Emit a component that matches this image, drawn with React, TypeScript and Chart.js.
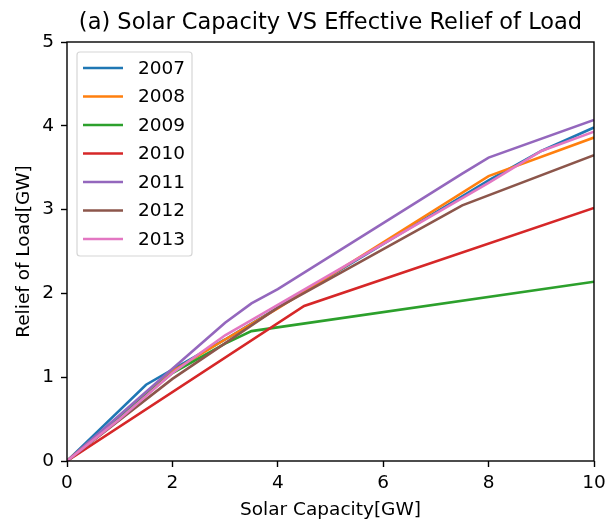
import React, { useEffect, useRef } from "react";
import { Chart, registerables } from "chart.js";

Chart.register(...registerables);

const FONT = "'DejaVu Sans', sans-serif";

const years = ["2007", "2008", "2009", "2010", "2011", "2012", "2013"];
const colors = ["#1f77b4", "#ff7f0e", "#2ca02c", "#d62728", "#9467bd", "#8c564b", "#e377c2"];

// Solar capacity [GW] at each breakpoint, and the matching relief of load [GW]
const cap2007 = [0, 1.5, 2, 3, 8, 9, 10];
const relief2007 = [0, 0.91, 1.09, 1.45, 3.35, 3.7, 3.98];
const cap2008 = [0, 2, 3, 4, 8, 10];
const relief2008 = [0, 1.07, 1.45, 1.82, 3.4, 3.86];
const cap2009 = [0, 2, 3, 3.5, 10];
const relief2009 = [0, 1.05, 1.4, 1.55, 2.14];
const cap2010 = [0, 4.5, 10];
const relief2010 = [0, 1.85, 3.02];
const cap2011 = [0, 1, 2, 3, 3.5, 4, 7.5, 8, 10];
const relief2011 = [0, 0.55, 1.1, 1.65, 1.88, 2.05, 3.43, 3.62, 4.07];
const cap2012 = [0, 2, 4, 7.5, 10];
const relief2012 = [0, 0.98, 1.83, 3.05, 3.65];
const cap2013 = [0, 1, 2, 3, 3.5, 8, 9, 10];
const relief2013 = [0, 0.5, 1.05, 1.5, 1.68, 3.32, 3.7, 3.93];

const capacities = [cap2007, cap2008, cap2009, cap2010, cap2011, cap2012, cap2013];
const reliefs = [relief2007, relief2008, relief2009, relief2010, relief2011, relief2012, relief2013];

const titleText = "(a) Solar Capacity VS Effective Relief of Load";
const xTitle = "Solar Capacity[GW]";
const yTitle = "Relief of Load[GW]";

const framePlugin = {
  id: "frameAndText",
  afterDraw(chart: any) {
    const { ctx, chartArea } = chart;
    const { left, right, top, bottom } = chartArea;
    ctx.save();
    // spines
    ctx.strokeStyle = "#000";
    ctx.lineWidth = 1.4;
    ctx.strokeRect(left, top, right - left, bottom - top);

    // title and axis titles
    ctx.fillStyle = "#000";
    ctx.textAlign = "center";
    ctx.textBaseline = "middle";
    ctx.font = `22.5px ${FONT}`;
    ctx.fillText(titleText, (left + right) / 2, 23);
    ctx.font = `18.5px ${FONT}`;
    ctx.fillText(xTitle, (left + right) / 2, 510);
    ctx.save();
    ctx.translate(24, (top + bottom) / 2);
    ctx.rotate(-Math.PI / 2);
    ctx.fillText(yTitle, 0, 0);
    ctx.restore();

    // legend
    const bx = 77, by = 52, bw = 115, bh = 204, r = 3;
    ctx.beginPath();
    ctx.moveTo(bx + r, by);
    ctx.arcTo(bx + bw, by, bx + bw, by + bh, r);
    ctx.arcTo(bx + bw, by + bh, bx, by + bh, r);
    ctx.arcTo(bx, by + bh, bx, by, r);
    ctx.arcTo(bx, by, bx + bw, by, r);
    ctx.closePath();
    ctx.fillStyle = "rgba(255,255,255,0.8)";
    ctx.fill();
    ctx.strokeStyle = "#d6d6d6";
    ctx.lineWidth = 1.2;
    ctx.stroke();
    ctx.font = `18.5px ${FONT}`;
    ctx.textAlign = "left";
    years.forEach((y, i) => {
      const cy = 68 + i * 28.5;
      ctx.strokeStyle = colors[i];
      ctx.lineWidth = 2.6;
      ctx.beginPath();
      ctx.moveTo(83, cy);
      ctx.lineTo(123, cy);
      ctx.stroke();
      ctx.fillStyle = "#000";
      ctx.fillText(y, 138, cy + 1);
    });
    ctx.restore();
  },
};

export default function App() {
  const ref = useRef<HTMLCanvasElement>(null);

  useEffect(() => {
    if (!ref.current) return;
    const datasets = years.map((y, i) => ({
      label: y,
      data: capacities[i].map((x, j) => ({ x, y: reliefs[i][j] })),
      borderColor: colors[i],
      backgroundColor: colors[i],
      borderWidth: 2.6,
      pointRadius: 0,
      tension: 0,
      fill: false,
      order: years.length - 1 - i,
    }));
    const tickFont = { family: FONT, size: 18.5 };
    const chart = new Chart(ref.current, {
      type: "line",
      data: { datasets },
      plugins: [framePlugin],
      options: {
        animation: false,
        responsive: false,
        maintainAspectRatio: false,
        layout: { padding: { top: 42, right: 11, left: 0, bottom: 0 } },
        plugins: {
          legend: { display: false },
          title: { display: false },
          tooltip: { enabled: false },
        },
        scales: {
          x: {
            type: "linear",
            min: 0,
            max: 10,
            ticks: { stepSize: 2, color: "#000", font: tickFont, padding: 5, maxRotation: 0 },
            grid: { display: true, drawOnChartArea: false, drawTicks: true, tickLength: 6, color: "#000", tickWidth: 1.4 },
            border: { display: false },
            afterFit: (s: any) => {
              s.height = 59;
              s.paddingLeft = 0;
              s.paddingRight = 0;
            },
          },
          y: {
            type: "linear",
            min: 0,
            max: 5,
            ticks: { stepSize: 1, color: "#000", font: tickFont, padding: 7 },
            grid: { display: true, drawOnChartArea: false, drawTicks: true, tickLength: 6, color: "#000", tickWidth: 1.4 },
            border: { display: false },
            afterFit: (s: any) => {
              s.width = 67;
              s.paddingTop = 0;
              s.paddingBottom = 0;
            },
          },
        },
      },
    });
    return () => chart.destroy();
  }, []);

  return (
    <div style={{ position: "fixed", left: 0, top: 0, width: 605, height: 520, background: "#fff" }}>
      <canvas ref={ref} width={605} height={520} style={{ width: 605, height: 520 }} />
    </div>
  );
}
